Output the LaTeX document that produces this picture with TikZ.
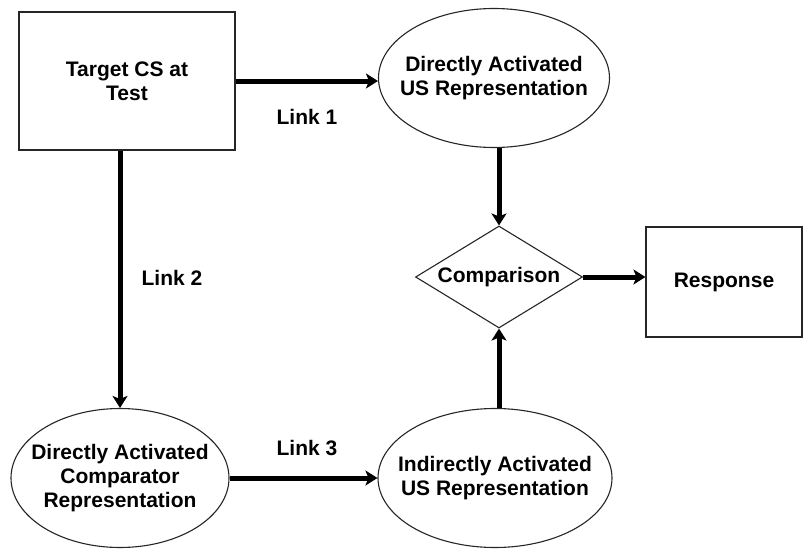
\documentclass[tikz,border=0pt]{standalone}
\usepackage{fontspec}
\setmainfont{Liberation Sans}
\usetikzlibrary{shapes.geometric,arrows.meta}
\begin{document}
\begin{tikzpicture}[x=1pt,y=-1pt,
  txt/.style={font=\fontsize{21}{24}\selectfont\bfseries, align=center, text=black},
  shapebox/.style={draw=black!85, line width=1.1pt, fill=white, inner sep=0pt},
  ellbox/.style={shapebox, ellipse},
  conn/.style={line width=5pt, -{Stealth[length=12pt,width=15pt,inset=3pt]}}]
\useasboundingbox (0,0) rectangle (804,549);
\node[shapebox, txt, rectangle, minimum width=216pt, minimum height=138pt] (T) at (127,81) {Target CS at\\Test};
\node[ellbox, minimum width=231pt, minimum height=139pt,
  label={[txt]center:{Directly Activated\\US Representation}}] (E1) at (494,78) {};
\node[shapebox, diamond, minimum width=167pt, minimum height=102pt,
  label={[txt]center:Comparison}] (D) at (499,277) {};
\node[shapebox, txt, rectangle, minimum width=156pt, minimum height=110pt] (R) at (724,282) {Response};
\node[ellbox, minimum width=218pt, minimum height=139pt,
  label={[txt]center:{Directly Activated\\Comparator\\Representation}}] (E3) at (120,478) {};
\node[ellbox, minimum width=234pt, minimum height=139pt,
  label={[txt]center:{Indirectly Activated\\US Representation}}] (E4) at (495,478) {};
\node[txt] (L1) at (307,117) {Link 1};
\node[txt] (L2) at (172,278) {Link 2};
\node[txt] (L3) at (307,448) {Link 3};
\draw[conn] (T.east) -- (T.east -| E1.west);
\draw[conn] (T.south -| E3.north) -- (E3.north);
\draw[conn] (E1.south -| D.north) -- (D.north);
\draw[conn] (E4.north -| D.south) -- (D.south);
\draw[conn] (D.east) -- (D.east -| R.west);
\draw[conn] (E3.east) -- (E3.east -| E4.west);
\end{tikzpicture}
\end{document}
